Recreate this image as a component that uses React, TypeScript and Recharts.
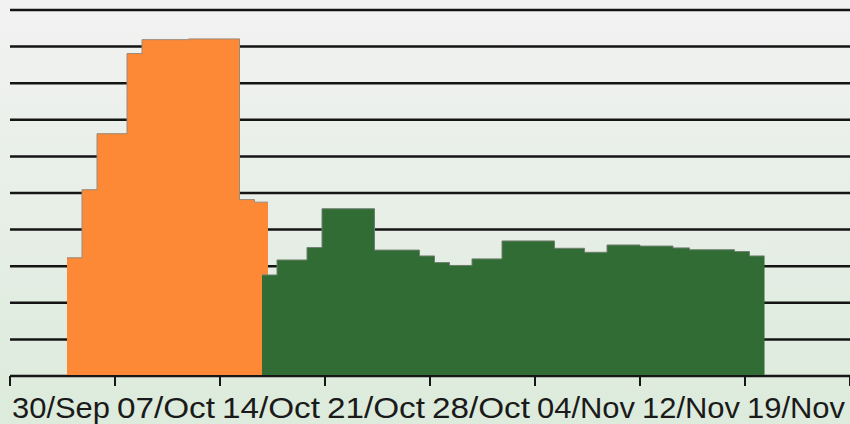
import { ComposedChart, Area, XAxis, YAxis, CartesianGrid } from 'recharts';

// x = days since 30/Sep, y = relative level (gridline every 10)
const orangeDays = [3.8, 4.8, 5.8, 7.8, 8.8, 11.9, 15.3, 16.3, 17.2];
const orangeValues = [32.3, 50.9, 66.2, 88.1, 91.9, 92.1, 48.2, 47.5, 47.5];

const greenDays = [16.8, 17.8, 19.8, 20.8, 24.3, 27.3, 28.3, 29.3, 30.8, 32.8, 36.3, 38.3, 39.8, 42.0, 44.2, 45.3, 48.3, 49.3, 50.3];
const greenValues = [27.6, 31.7, 35.1, 45.7, 34.4, 32.8, 31.0, 30.2, 32.0, 36.9, 34.9, 33.8, 35.8, 35.5, 35.0, 34.5, 34.0, 32.8, 32.8];

const tickDays = [0, 7, 14, 21, 28, 35, 42, 49, 56];
const tickLabels = ['30/Sep', '07/Oct', '14/Oct', '21/Oct', '28/Oct', '04/Nov', '12/Nov', '19/Nov', ''];
const gridValues = [0, 10, 20, 30, 40, 50, 60, 70, 80, 90, 100];

const orangeData = orangeDays.map((d, i) => ({ d, v: orangeValues[i] }));
const greenData = greenDays.map((d, i) => ({ d, v: greenValues[i] }));

const DateTick = (props: any) => {
  const { x, y, payload } = props;
  const label = tickLabels[tickDays.indexOf(payload.value)] ?? '';
  return (
    <text x={x + 2} y={y + 30} textAnchor="start" fontSize={30} fill="#1a1a1a"
      fontFamily="'Liberation Sans', Arial, sans-serif" textLength={label ? 98 : undefined}
      lengthAdjust="spacingAndGlyphs">
      {label}
    </text>
  );
};

const App = () => {
  return (
    <div style={{
      position: 'absolute', left: 0, top: 0, width: 850, height: 424,
      background: 'linear-gradient(to bottom, #f2f2f2 0%, #dcebdb 100%)',
    }}>
      <ComposedChart width={850} height={424} margin={{ top: 10, right: 0, bottom: 0, left: 10 }}>
        <CartesianGrid horizontal vertical={false} stroke="#141414" strokeWidth={2.5} />
        <XAxis
          type="number"
          dataKey="d"
          domain={[0, 56]}
          ticks={tickDays}
          allowDataOverflow
          height={48}
          tick={<DateTick />}
          tickSize={10}
          axisLine={{ stroke: '#161616', strokeWidth: 2 }}
          tickLine={{ stroke: '#161616', strokeWidth: 2 }}
          interval={0}
        />
        <YAxis type="number" domain={[0, 100]} ticks={gridValues} hide />
        <Area
          data={orangeData}
          dataKey="v"
          type="stepAfter"
          fill="#fd8835"
          fillOpacity={1}
          stroke="#9a8a7a"
          strokeWidth={1}
          isAnimationActive={false}
        />
        <Area
          data={greenData}
          dataKey="v"
          type="stepAfter"
          fill="#316c35"
          fillOpacity={1}
          stroke="#6f7f6f"
          strokeWidth={1}
          isAnimationActive={false}
        />
      </ComposedChart>
    </div>
  );
};

export default App;
